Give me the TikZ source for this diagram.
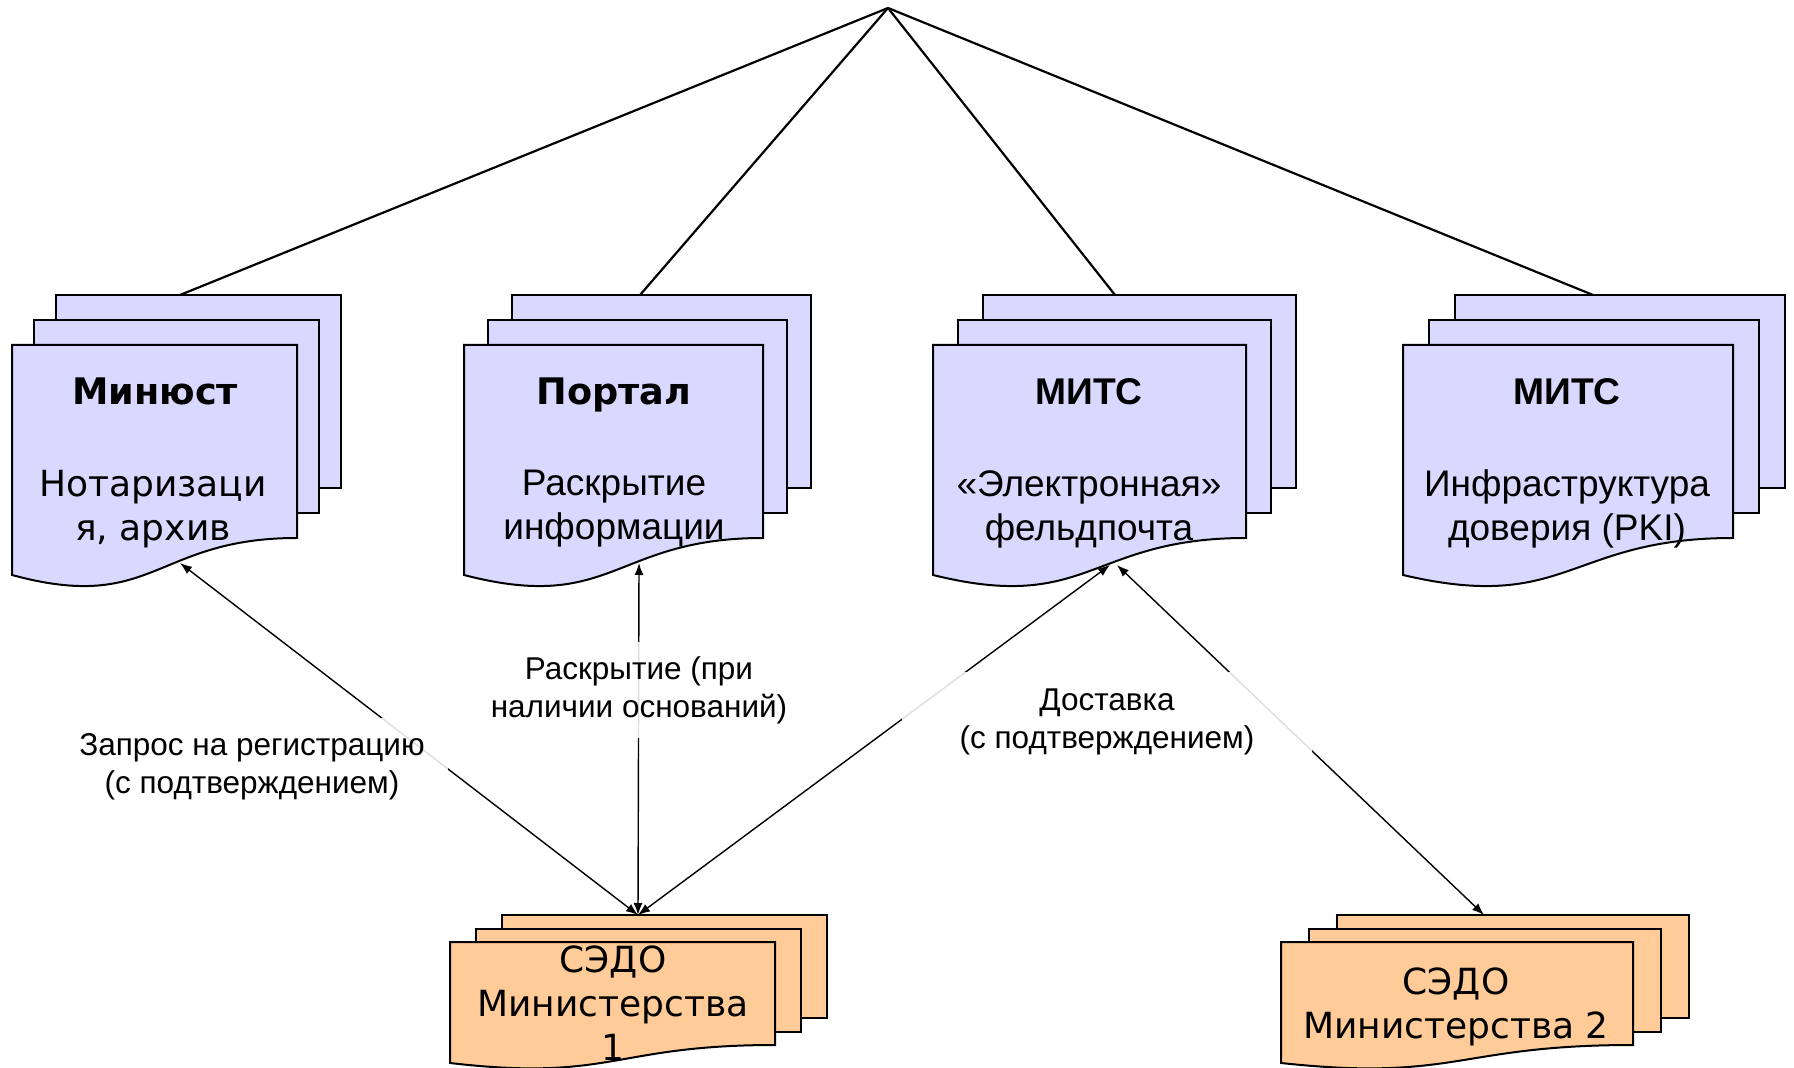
\documentclass[tikz,border=0pt]{standalone}
\usepackage{fontspec}
\setmainfont{Liberation Sans}
\newfontfamily\verdfont{DejaVu Sans}
\newfontfamily\arialfont{Liberation Sans}
\usetikzlibrary{arrows.meta}
\definecolor{lav}{RGB}{217,217,255}
\definecolor{peach}{RGB}{255,204,153}
\tikzset{
  docline/.style={draw=black,line width=1pt},
  topline/.style={draw=black,line width=1.1pt},
  conn/.style={draw=black,line width=0.7pt,{Latex[length=6pt,width=4.5pt]}-{Latex[length=6pt,width=4.5pt]}},
  ttlV/.style={anchor=base,inner sep=0pt,font=\verdfont\bfseries\fontsize{18.3}{22}\selectfont},
  ttlA/.style={anchor=base,inner sep=0pt,font=\arialfont\bfseries\fontsize{18.6}{22}\selectfont},
  bodyV/.style={align=center,inner sep=0pt,font=\verdfont\fontsize{18}{22}\selectfont},
  bodyA/.style={align=center,inner sep=0pt,font=\arialfont\fontsize{18.5}{22}\selectfont},
  lbl/.style={align=center,inner sep=0pt,fill=white,fill opacity=0.87,text opacity=1,font=\arialfont\fontsize{15.75}{19}\selectfont}
}
% colour, xL, xR, yTop, yRightBottom, yLeftBottom, dx, dy
\newcommand\mdocshape[8]{%
  \draw[docline,fill=#1] ({#2+2*(#7)},{#4+2*(#8)}) rectangle ({#3+2*(#7)},{#5+2*(#8)});
  \draw[docline,fill=#1] ({#2+(#7)},{#4+(#8)}) rectangle ({#3+(#7)},{#5+(#8)});
  \draw[docline,fill=#1] (#2,#6) -- (#2,#4) -- (#3,#4) -- (#3,#5)
     .. controls ({(#2+#3)/2},#5) and ({(#2+#3)/2},{#5+2.05*(#6-#5)}) .. (#2,#6) -- cycle;
}
\begin{document}
\begin{tikzpicture}[x=0.5pt,y=-0.5pt]
\useasboundingbox (0,0) rectangle (1794,1068);
\clip (0,0) rectangle (1794,1068);

% anchor points
\coordinate (apex) at (888,8);
\coordinate (minjust-top) at (180,295);
\coordinate (portal-top) at (640,295);
\coordinate (mits1-top) at (1115,295);
\coordinate (mits2-top) at (1593,295);
\coordinate (minjust-bot) at (180,563);
\coordinate (portal-bot) at (639,563);
\coordinate (mits1-botl) at (1110,565);
\coordinate (mits1-botr) at (1117,565);
\coordinate (sedo1-top) at (638,915);
\coordinate (sedo2-top) at (1484,915);

% tree lines
\draw[topline] (apex) -- (minjust-top);
\draw[topline] (apex) -- (portal-top);
\draw[topline] (apex) -- (mits1-top);
\draw[topline] (apex) -- (mits2-top);

% multi-document shapes
\mdocshape{lav}{12}{297}{345}{538}{575}{22}{-25}
\mdocshape{lav}{464}{763}{345}{538}{575}{24}{-25}
\mdocshape{lav}{933}{1246}{345}{538}{575}{25}{-25}
\mdocshape{lav}{1403}{1733}{345}{538}{575}{26}{-25}
\mdocshape{peach}{450}{775}{942}{1045}{1063}{26}{-13.5}
\mdocshape{peach}{1281}{1633}{942}{1045}{1063}{28}{-13.5}

% connectors
\draw[conn] (minjust-bot) -- (sedo1-top);
\draw[conn] (portal-bot) -- (sedo1-top);
\draw[conn] (mits1-botl) -- (sedo1-top);
\draw[conn] (mits1-botr) -- (sedo2-top);

% connector labels
\node[lbl,minimum width=196pt,minimum height=49pt] (lab-reg) at (252,767)
  {Запрос на регистрацию\\(с подтверждением)};
\node[lbl,minimum width=170pt,minimum height=48pt] (lab-disc) at (639,690)
  {Раскрытие (при\\наличии оснований)};
\node[lbl,minimum width=205pt,minimum height=50pt] (lab-deliv) at (1107,722)
  {Доставка\\(с подтверждением)};

% box texts
\node[ttlV] (minjust-title) at (155,405) {Минюст};
\node[bodyV] (minjust-body) at (153,509) {Нотаризаци\\я, архив};
\node[ttlV] (portal-title) at (614,405) {Портал};
\node[bodyA] (portal-body) at (614,509) {Раскрытие\\информации};
\node[ttlA] (mits1-title) at (1089,405) {МИТС};
\node[bodyA] (mits1-body) at (1089,509) {«Электронная»\\фельдпочта};
\node[ttlA] (mits2-title) at (1567,405) {МИТС};
\node[bodyA] (mits2-body) at (1567,509) {Инфраструктура\\доверия (PKI)};
\node[bodyV] (sedo1-body) at (613,1003) {СЭДО\\Министерства\\1};
\node[bodyV] (sedo2-body) at (1456,1007) {СЭДО\\Министерства 2};
\end{tikzpicture}
\end{document}
